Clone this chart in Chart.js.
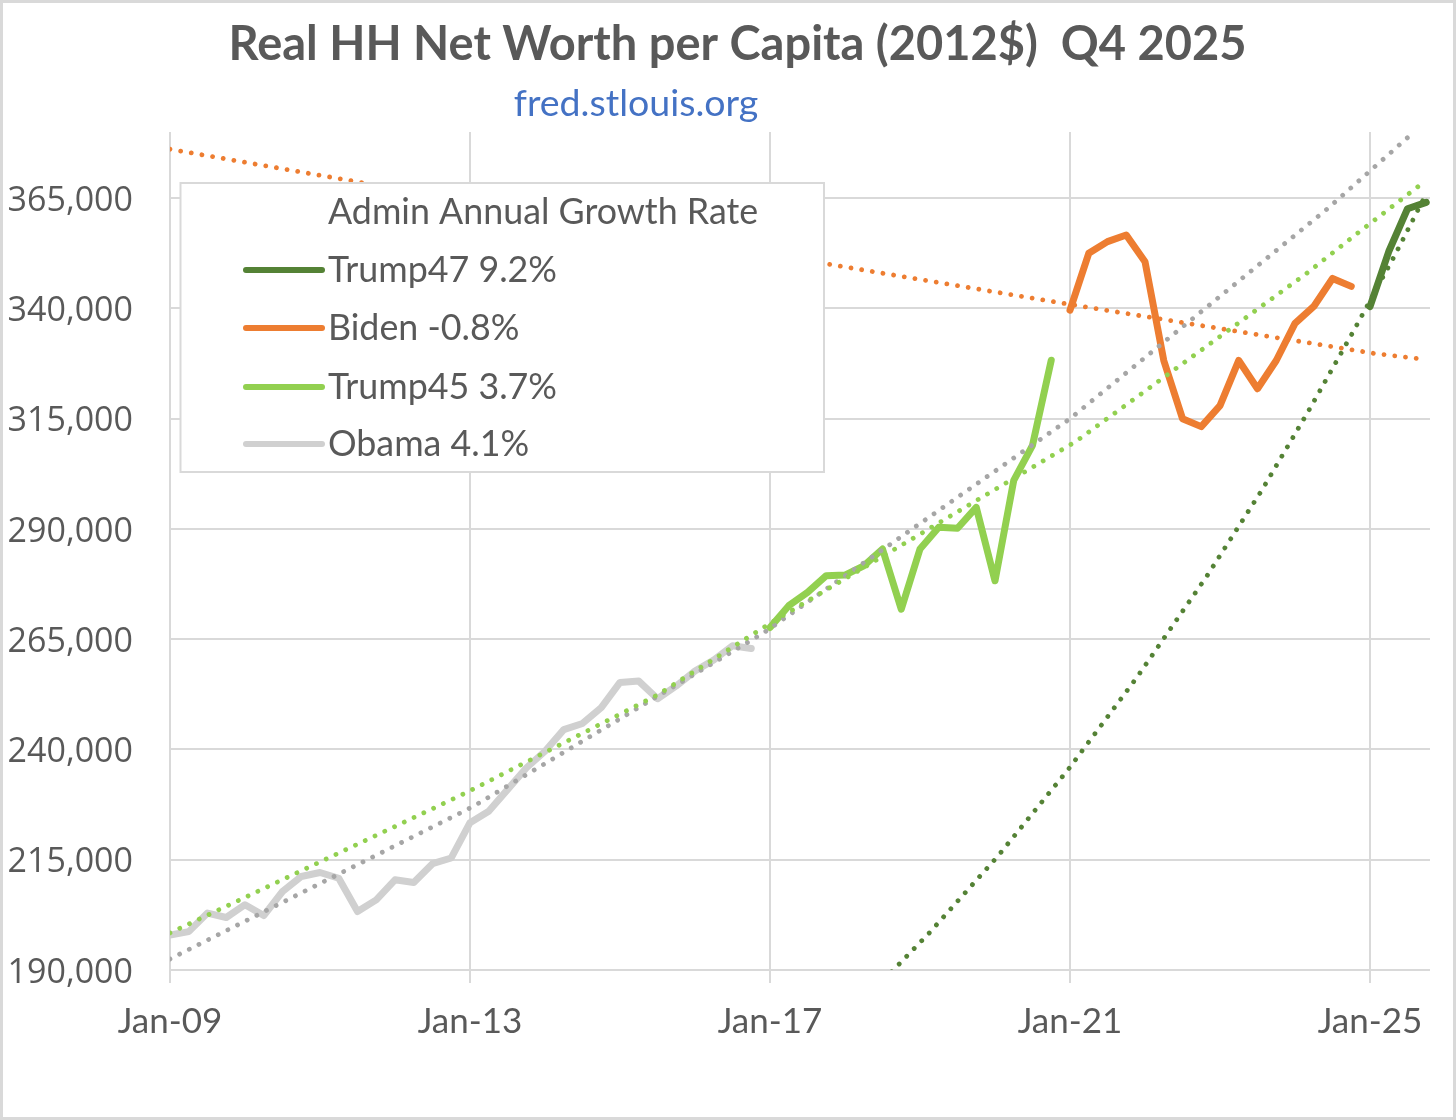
<!DOCTYPE html>
<html>
<head>
<meta charset="utf-8">
<title>Real HH Net Worth per Capita</title>
<script src="https://cdn.jsdelivr.net/npm/chart.js@4.4.1/dist/chart.umd.min.js"></script>
<style>
  html, body { margin: 0; padding: 0; background: #fff; }
  #wrap { width: 1456px; height: 1120px; position: relative; }
</style>
</head>
<body>
<div id="wrap"><canvas id="netWorthChart"></canvas></div>
<script>
// Text
const chartTitle = 'Real HH Net Worth per Capita (2012$)  Q4 2025';
const chartSource = 'fred.stlouis.org';
const legendTitle = 'Admin Annual Growth Rate';

// X axis is a quarter index counted from Q1 2009
const xTickQuarters = [0, 16, 32, 48, 64];
const xTickLabels = ['Jan-09', 'Jan-13', 'Jan-17', 'Jan-21', 'Jan-25'];
const yTickValues = [190000, 215000, 240000, 265000, 290000, 315000, 340000, 365000];

const seriesNames = ['Trump47 9.2%', 'Biden -0.8%', 'Trump45 3.7%', 'Obama 4.1%'];

// Quarterly values
const obamaStart = 0;
const obamaValues = [197950, 198700, 202900, 201900, 204800, 202350, 207800, 211200,
                     212100, 210800, 203250, 205900, 210450, 209850, 214100, 215400,
                     223400, 226000, 230900, 235800, 239600, 244500, 245900, 249500,
                     255200, 255500, 251500, 254400, 257800, 260300, 263500, 262900];
const trump45Start = 32;
const trump45Values = [267650, 272600, 275600, 279400, 279550, 281650, 285450, 271800,
                       285450, 290400, 290150, 294900, 278250, 301000, 308950, 328250];
const bidenStart = 48;
const bidenValues = [339600, 352500, 355150, 356650, 350600, 328200, 315000, 313200,
                     317950, 328200, 321800, 328200, 336600, 340450, 346800, 345000];
const trump47Start = 64;
const trump47Values = [340400, 352900, 362600, 364050];

// Trendlines, [quarter, value] pairs
const obamaTrend = [[0, 192500], [16.16, 227050], [31.63, 266360], [48, 315000], [61.76, 362700], [66.4, 380230]];
const trump45Trend = [[0, 198400], [15.8, 230200], [25.96, 252270], [32, 268600], [48.3, 309800], [60.62, 347950], [63.47, 357500], [66.8, 368400]];
const bidenTrend = [[0, 376100], [8.85, 369550], [35.38, 349840], [47.77, 341070], [64.27, 329770], [67, 328400]];
const trump47Trend = [[38.49, 189600], [40.53, 198570], [44.14, 215750], [47.93, 235600], [51.52, 256050],
                      [55.29, 279250], [58.22, 298700], [60.66, 316300], [63.02, 334100], [65.33, 352100], [66.99, 365900]];

const colors = {
    trump47: '#548235',
    biden: '#ED7D31',
    trump45: '#92D050',
    obama: '#D0D0D0',
    obamaTrend: '#A6A6A6',
    grid: '#D9D9D9',
    text: '#595959',
    source: '#4472C4'
};

function seriesPoints(start, values) {
    return values.map((v, i) => ({ x: start + i, y: v }));
}
function trendPoints(pairs) {
    return pairs.map(p => ({ x: p[0], y: p[1] }));
}

function lineSet(label, data, color) {
    return {
        label, data,
        borderColor: color,
        borderWidth: 7,
        borderCapStyle: 'round',
        borderJoinStyle: 'round',
        pointRadius: 0,
        tension: 0,
        fill: false
    };
}
function trendSet(label, data, color) {
    return {
        label, data,
        borderColor: color,
        borderWidth: 4.8,
        borderDash: [0.001, 10.8],
        borderCapStyle: 'round',
        pointRadius: 0,
        tension: 0,
        fill: false
    };
}

// first datasets are drawn on top, so trendlines go first
const datasets = [
    trendSet('Trump47 trend', trendPoints(trump47Trend), colors.trump47),
    trendSet('Biden trend', trendPoints(bidenTrend), colors.biden),
    trendSet('Trump45 trend', trendPoints(trump45Trend), colors.trump45),
    trendSet('Obama trend', trendPoints(obamaTrend), colors.obamaTrend),
    lineSet(seriesNames[0], seriesPoints(trump47Start, trump47Values), colors.trump47),
    lineSet(seriesNames[1], seriesPoints(bidenStart, bidenValues), colors.biden),
    lineSet(seriesNames[2], seriesPoints(trump45Start, trump45Values), colors.trump45),
    lineSet(seriesNames[3], seriesPoints(obamaStart, obamaValues), colors.obama)
];

// white page, title + source line (not centred on each other in the original), grey frame
const framePlugin = {
    id: 'frame',
    beforeDraw(chart) {
        const c = chart.ctx;
        c.save();
        c.fillStyle = '#fff';
        c.fillRect(0, 0, chart.width, chart.height);
        c.restore();
    },
    afterDraw(chart) {
        const c = chart.ctx;
        c.save();
        c.textAlign = 'center';
        c.textBaseline = 'middle';
        c.font = 'bold 47px Lato';
        c.fillStyle = colors.text;
        c.fillText(chartTitle, 737.5, 45);

        c.font = '37.5px Lato';
        c.fillStyle = colors.source;
        c.fillText(chartSource, 636, 104);

        c.strokeStyle = colors.grid;
        c.lineWidth = 3;
        c.strokeRect(1.5, 1.5, chart.width - 3, chart.height - 3);
        c.restore();
    }
};

// boxed legend sitting inside the plot, like the Excel one
const boxLegend = {
    id: 'boxLegend',
    afterDatasetsDraw(chart) {
        const c = chart.ctx;
        const box = { x: 180.5, y: 183, w: 643.5, h: 289 };
        c.save();
        c.fillStyle = '#fff';
        c.fillRect(box.x, box.y, box.w, box.h);
        c.strokeStyle = colors.grid;
        c.lineWidth = 2;
        c.strokeRect(box.x, box.y, box.w, box.h);

        c.font = '35.8px Lato';
        c.fillStyle = colors.text;
        c.textBaseline = 'middle';
        c.textAlign = 'left';
        c.fillText(legendTitle, 328, 212);

        const rows = [270, 328, 387, 444];
        seriesNames.forEach((name, i) => {
            const ds = chart.data.datasets.find(d => d.label === name);
            c.strokeStyle = ds.borderColor;
            c.lineWidth = 6;
            c.lineCap = 'round';
            c.beginPath();
            c.moveTo(246, rows[i]);
            c.lineTo(322, rows[i]);
            c.stroke();
            c.fillStyle = colors.text;
            c.fillText(name, 328, rows[i]);
        });
        c.restore();
    }
};

Chart.defaults.font.family = 'Lato';
Chart.defaults.color = colors.text;

const ctx = document.getElementById('netWorthChart').getContext('2d');
const netWorthChart = new Chart(ctx, {
    type: 'line',
    data: { datasets },
    options: {
        responsive: true,
        maintainAspectRatio: false,
        animation: false,
        layout: { padding: { left: 0, right: 26, top: 132, bottom: 0 } },
        plugins: {
            legend: { display: false },
            tooltip: { enabled: false },
            title: { display: false }
        },
        scales: {
            x: {
                type: 'linear',
                min: 0,
                max: 67.2,
                border: { display: false },
                grid: { color: colors.grid, lineWidth: 2, drawTicks: true, tickLength: 13 },
                ticks: {
                    padding: 18,
                    color: colors.text,
                    font: { family: 'Lato', size: 35 },
                    callback: v => xTickLabels[xTickQuarters.indexOf(v)]
                },
                afterBuildTicks: s => { s.ticks = xTickQuarters.map(v => ({ value: v })); },
                afterFit: s => { s.height = 150; }
            },
            y: {
                min: 190000,
                max: 380000,
                border: { display: false },
                grid: { color: colors.grid, lineWidth: 2, drawTicks: false },
                ticks: {
                    padding: 37,
                    labelOffset: 3,
                    color: colors.text,
                    font: { family: 'Open Sans', size: 34 },
                    callback: v => v.toLocaleString('en-US')
                },
                afterBuildTicks: s => { s.ticks = yTickValues.map(v => ({ value: v })); },
                afterFit: s => { s.width = 170; }
            }
        }
    },
    plugins: [framePlugin, boxLegend]
});
</script>
</body>
</html>
